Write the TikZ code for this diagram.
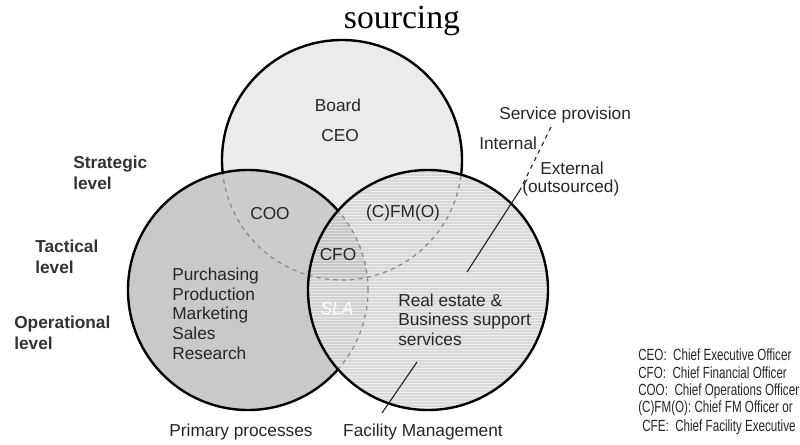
\documentclass[tikz,border=0pt]{standalone}
\usepackage{fontspec}
\setmainfont{Liberation Sans}
\newfontfamily\headfont{Liberation Serif}
\newfontfamily\keyfont[FakeStretch=0.72]{Liberation Sans}
\usepackage{tikz}

\definecolor{boardgray}{HTML}{EBEBEB}
\definecolor{primgray}{HTML}{C9C9C9}
\definecolor{coogray}{HTML}{CCCCCC}
\definecolor{fmgray}{HTML}{D9D9D9}
\definecolor{fmogray}{HTML}{D8D8D8}
\definecolor{slagray}{HTML}{D2D2D2}
\definecolor{cfogray}{HTML}{C6C6C6}

\begin{document}
\begin{tikzpicture}[
    rim/.style={draw=black,line width=1.7pt},
    hidden/.style={draw=black!45,dashed,line width=0.9pt},
    stripe/.style={draw=white,opacity=0.5,line width=0.4pt},
    lbl/.style={font=\fontsize{12.3}{14}\selectfont,text=black!85,inner sep=0pt},
    block/.style={lbl,align=left,anchor=west},
    level/.style={font=\fontsize{12.3}{15}\selectfont\bfseries,text=black!80,
                  align=left,anchor=west,inner sep=0pt},
    key/.style={font=\keyfont\fontsize{11.5}{13}\selectfont,text=black!85,
                anchor=west,inner sep=0pt},
    pointer/.style={draw=black!85,line width=0.8pt}]

  \useasboundingbox (0,0) rectangle (20,11.1);
  \def\rad{3}

  \coordinate (T) at (8.55,7.1);
  \coordinate (L) at (6.2,3.85);
  \coordinate (R) at (10.7,3.85);

  % board circle
  \fill[boardgray] (T) circle (\rad);
  \draw[rim] (T) circle (\rad);

  % primary processes circle
  \fill[primgray] (L) circle (\rad);
  \begin{scope}
    \clip (L) circle (\rad);
    \fill[coogray] (T) circle (\rad);
    \draw[hidden] (T) circle (\rad);
  \end{scope}
  \draw[rim] (L) circle (\rad);

  % facility management circle
  \fill[fmgray] (R) circle (\rad);
  \begin{scope}
    \clip (R) circle (\rad);
    \fill[slagray] (L) circle (\rad);
    \fill[fmogray] (T) circle (\rad);
    \begin{scope}
      \clip (L) circle (\rad);
      \fill[cfogray] (T) circle (\rad);
    \end{scope}
    \foreach \y in {0.85,0.925,...,6.85}
      \draw[stripe] (7.6,\y) -- (13.8,\y);
    \draw[hidden] (T) circle (\rad);
    \draw[hidden] (L) circle (\rad);
  \end{scope}
  \draw[rim] (R) circle (\rad);

  \node[anchor=base,font=\headfont\fontsize{24}{26}\selectfont] (head) at (10.05,10.38) {sourcing};

  \node[lbl] (board) at (8.45,8.475) {Board};
  \node[lbl] (ceo) at (8.5,7.7) {CEO};
  \node[lbl] (coo) at (6.75,5.75) {COO};
  \node[lbl] (cfmo) at (10.075,5.775) {(C)FM(O)};
  \node[lbl] (cfo) at (8.45,4.725) {CFO};
  \node[lbl,text=white,font=\fontsize{12.3}{14}\selectfont\itshape] (sla) at (8.425,3.375) {SLA};

  \node[block] (prim) at (4.3,3.26) {Purchasing\\Production\\Marketing\\Sales\\Research};
  \node[block] (supp) at (9.95,3.11) {Real estate \&\\Business support\\services};

  \node[level] (strat) at (1.825,6.79) {Strategic\\level};
  \node[level] (tact) at (0.875,4.675) {Tactical\\level};
  \node[level] (oper) at (0.35,2.775) {Operational\\level};

  \node[lbl,anchor=west] (prov) at (12.475,8.225) {Service provision};
  \node[lbl,anchor=west] (int) at (11.975,7.525) {Internal};
  \node[lbl,anchor=west] (ext) at (13.5,6.9) {External};
  \node[lbl,anchor=west] (outs) at (13.05,6.4) {(outsourced)};

  \node[lbl] (primproc) at (6.025,0.3) {Primary processes};
  \node[lbl] (facman) at (10.575,0.3) {Facility Management};

  % internal / external divider
  \coordinate (provtop) at (13.775,7.925);
  \coordinate (provmid) at (13.0,6.35);
  \coordinate (provend) at (11.675,4.3);
  \draw[pointer,dashed] (provtop) -- (provmid);
  \draw[pointer] (provmid) -- (provend);

  % facility management pointer
  \coordinate (fmin) at (10.425,2.05);
  \coordinate (fmout) at (9.55,0.775);
  \draw[pointer] (fmin) -- (fmout);

  % abbreviations
  \node[key] (k1) at (15.95,2.225) {CEO:\ \ Chief Executive Officer};
  \node[key] (k2) at (15.95,1.775) {CFO:\ \ Chief Financial Officer};
  \node[key] (k3) at (15.95,1.325) {COO:\ \ Chief Operations Officer};
  \node[key] (k4) at (15.95,0.9) {(C)FM(O): Chief FM Officer or};
  \node[key] (k5) at (16.05,0.425) {CFE:\ \ Chief Facility Executive};

\end{tikzpicture}
\end{document}
